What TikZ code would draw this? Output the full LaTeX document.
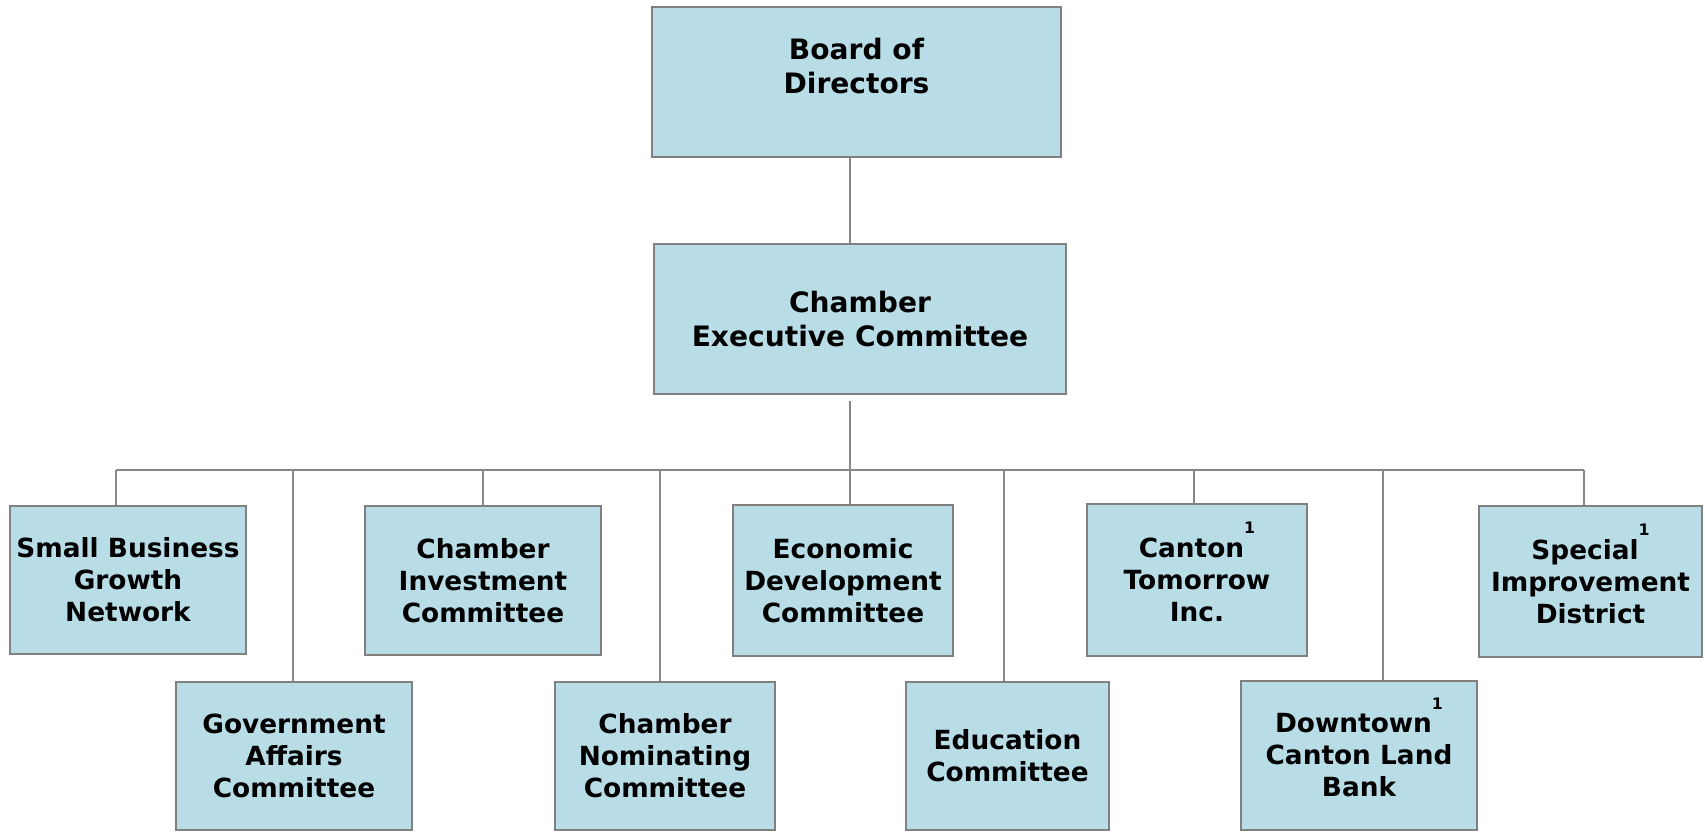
\documentclass[tikz,border=0pt]{standalone}
\usepackage{fontspec}
\setmainfont{DejaVu Sans}
\usepackage{tikz}
\usetikzlibrary{positioning, calc}

\definecolor{boxblue}{RGB}{184, 221, 231}
\definecolor{boxgray}{RGB}{128, 128, 128}
\definecolor{linegray}{RGB}{136, 136, 136}

% footnote mark on affiliated bodies
\newcommand{\fnone}{\smash{\raisebox{13.5pt}{\fontsize{9}{9}\selectfont 1}}}

\begin{document}
\begin{tikzpicture}[x=0.02cm, y=-0.02cm,
  unit/.style={draw=boxgray, fill=boxblue, line width=1.1pt, inner sep=0pt,
    align=center, font=\fontsize{15}{18.2}\selectfont\bfseries},
  head/.style={unit, font=\fontsize{16}{19.6}\selectfont\bfseries},
  link/.style={draw=linegray, line width=1.1pt}]
  \useasboundingbox (0,0) rectangle (1705,832);

  % top of the chart
  \node[head, minimum width=409*0.02cm, minimum height=150*0.02cm] (board) at (856.5,82)
    {Board of\\Directors\\[-1.5pt]\mbox{}};
  \node[head, minimum width=412*0.02cm, minimum height=150*0.02cm] (exec) at (860,319)
    {Chamber\\Executive Committee};

  % upper row
  \node[unit, minimum width=236*0.02cm, minimum height=148*0.02cm] (sbgn) at (128,580)
    {Small Business\\Growth\\Network};
  \node[unit, minimum width=236*0.02cm, minimum height=149*0.02cm] (cic) at (483,580.5)
    {Chamber\\Investment\\Committee};
  \node[unit, minimum width=220*0.02cm, minimum height=151*0.02cm] (edc) at (843,580.5)
    {Economic\\Development\\Committee};
  \node[unit, minimum width=220*0.02cm, minimum height=152*0.02cm] (cti) at (1197,580)
    {Canton\fnone\\Tomorrow\\Inc.};
  \node[unit, minimum width=223*0.02cm, minimum height=151*0.02cm] (sid) at (1590.5,581.5)
    {Special\fnone\\Improvement\\District};

  % lower row
  \node[unit, minimum width=236*0.02cm, minimum height=148*0.02cm] (gac) at (294,756)
    {Government\\Affairs\\Committee};
  \node[unit, minimum width=220*0.02cm, minimum height=148*0.02cm] (cnc) at (665,756)
    {Chamber\\Nominating\\Committee};
  \node[unit, minimum width=203*0.02cm, minimum height=148*0.02cm] (edu) at (1007.5,756)
    {Education\\Committee};
  \node[unit, minimum width=236*0.02cm, minimum height=149*0.02cm] (dclb) at (1359,755.5)
    {Downtown\fnone\\Canton Land\\Bank};

  % connectors
  \coordinate (hub) at (850,470);
  \draw[link] (board.south -| hub) -- (exec.north -| hub);
  \draw[link] ([yshift=-0.12cm]exec.south -| hub) -- (hub);
  \foreach \n/\x in {sbgn/116, gac/293, cic/483, cnc/660, edc/850,
                     edu/1004, cti/1194, dclb/1383, sid/1584} {
    \coordinate (drop-\n) at (\x,470);
    \draw[link] (drop-\n) -- (drop-\n |- \n.north);
  }
  \draw[link] (drop-sbgn) -- (drop-sid);
\end{tikzpicture}
\end{document}
